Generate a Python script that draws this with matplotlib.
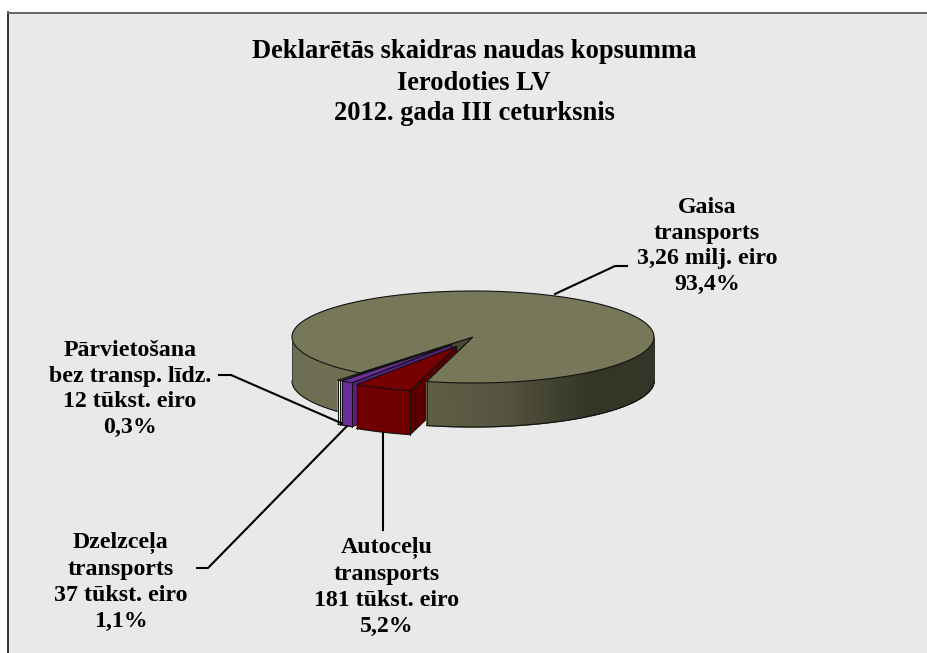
import matplotlib
matplotlib.use("Agg")
import matplotlib.pyplot as plt
import numpy as np

title_lines = ["Deklarētās skaidras naudas kopsumma", "Ierodoties LV", "2012. gada III ceturksnis"]
slice_names = ["Gaisa transports", "Autoceļu transports", "Dzelzceļa transports", "Pārvietošana"]
shares = [93.4, 5.2, 1.1, 0.3]
explode = [0.0, 0.22, 0.2, 0.2]
top_colors = ["#77775a", "#760000", "#6f2f9f", "#f4f4f4"]
side_colors = ["#6e6e52", "#700000", "#6a2c98", "#f0f0f0"]
cut_colors = ["#4a4a38", "#5a0000", "#552280", "#cccccc"]
labels = [
    "Gaisa\ntransports\n3,26 milj. eiro\n93,4%",
    "Autoceļu\ntransports\n181 tūkst. eiro\n5,2%",
    "Dzelzceļa\ntransports\n37 tūkst. eiro\n1,1%",
    "Pārvietošana\nbez transp. līdz.\n12 tūkst. eiro\n0,3%",
]

first_angle = 218.6
cx, cy, rx, ry, depth = 473, 337, 181, 46, 44

plt.rcParams['font.family'] = ['Liberation Serif', 'DejaVu Serif']
fig = plt.figure(figsize=(9.28, 6.53), dpi=100)
ax = fig.add_axes([0, 0, 1, 1])
ax.set_xlim(0, 928)
ax.set_ylim(653, 0)
ax.axis('off')

# chart area
ax.fill([8, 928, 928, 8], [12, 12, 653, 653], color="#e9e9e9", lw=0, zorder=0)
ax.plot([8, 8], [12, 653], color="#111111", lw=1.2, zorder=1)
ax.plot([8, 928], [12.5, 12.5], color="#666666", lw=1.4, zorder=1)


def point(ang, ox=0, oy=0, drop=0):
    a = np.radians(ang)
    return cx + ox + rx * np.sin(a), cy + oy - ry * np.cos(a) + drop


def wall(a0, a1, ox, oy, color, z, shaded=False):
    angs = np.linspace(a0, a1, 240)
    base = np.array(matplotlib.colors.to_rgb("#6e6e52"))
    if shaded:
        # darker towards the right of the wall
        for p, q in zip(angs[:-1], angs[1:]):
            xs0, ys0 = point(p, ox, oy)
            xs1, ys1 = point(q, ox, oy)
            v = np.interp((xs0 + xs1) / 2, [426, 500, 545, 590, 654], [0.87, 0.78, 0.62, 0.48, 0.48])
            ax.fill([xs0, xs1, xs1, xs0], [ys0, ys1, ys1 + depth, ys0 + depth],
                    color=tuple(base * v), lw=0.9, zorder=z)
    else:
        xs, ys = point(angs, ox, oy)
        ax.fill(np.r_[xs, xs[::-1]], np.r_[ys, ys[::-1] + depth], color=color, lw=0, zorder=z)
    xs, ys = point(angs, ox, oy)
    ax.plot(xs, ys + depth, color="#111111", lw=0.8, zorder=z + 0.1)


def top(a0, a1, ox, oy, color, z):
    angs = np.linspace(a0, a1, 240)
    xs, ys = point(angs, ox, oy)
    ax.fill(np.r_[cx + ox, xs], np.r_[cy + oy, ys], facecolor=color, edgecolor="#111111", lw=0.8, zorder=z)


def cut(ang, ox, oy, color, z):
    x, y = point(ang, ox, oy)
    ax.fill([cx + ox, x, x, cx + ox], [cy + oy, y, y + depth, cy + oy + depth],
            facecolor=color, edgecolor="#111111", lw=0.7, zorder=z)


# slice angles come from the shares, clockwise from first_angle
spans = np.array(shares) / sum(shares) * 360
starts = first_angle + np.r_[0, np.cumsum(spans)[:-1]]
ends = starts + spans
offs = []
for s, e, ex in zip(starts, ends, explode):
    m = np.radians((s + e) / 2)
    offs.append((ex * rx * np.sin(m), -ex * ry * np.cos(m)))

# main slice: cut faces sit behind everything
cut(starts[0], 0, 0, cut_colors[0], 2)
cut(ends[0], 0, 0, cut_colors[0], 2)
top(starts[0], ends[0], 0, 0, top_colors[0], 5)
wall(starts[0], 270, 0, 0, side_colors[0], 4)
wall(90, ends[0] - 360, 0, 0, side_colors[0], 4.5, shaded=True)
left_x, left_y = point(270)
cut_x, cut_y = point(ends[0])
ax.plot([left_x, left_x], [left_y, left_y + depth], color="#333333", lw=0.6, zorder=5)
right_x, right_y = point(90)
ax.plot([right_x, right_x], [right_y, right_y + depth], color="#333333", lw=0.6, zorder=5)
ax.plot([cut_x, cut_x], [cut_y, cut_y + depth], color="#222222", lw=0.7, zorder=5)

# exploded slices: cut faces go under the main wall, the rest on top
z = 6
for n, i in enumerate([3, 2, 1]):
    ox, oy = offs[i]
    cut(starts[i], ox, oy, cut_colors[i], 4.1 + n * 0.1)
    top(starts[i], ends[i], ox, oy, top_colors[i], z + 0.2)
    wall(starts[i], ends[i], ox, oy, side_colors[i], z + 0.1)
    for ang in (starts[i], ends[i]):
        x, y = point(ang, ox, oy)
        ax.plot([x, x], [y, y + depth], color="#111111", lw=0.7, zorder=z + 0.3)
    z += 1

# leader lines
leaders = [
    ([555, 615, 627], [294, 266, 266]),
    ([383, 383], [433, 530]),
    ([347, 208, 197], [426, 568, 568]),
    ([341, 231, 219], [423, 375, 375]),
]
for xs, ys in leaders:
    ax.plot(xs, ys, color="black", lw=1.5, zorder=12)

title_y = [58, 90, 120]
for line, y in zip(title_lines, title_y):
    ax.text(474, y, line, ha='center', va='baseline', fontsize=19.1, fontweight='bold', color='black', zorder=13)

label_xy = [(707, 246), (386.5, 587), (121, 582), (130, 389)]
for text, (x, y) in zip(labels, label_xy):
    ax.text(x, y, text, ha='center', va='center', fontsize=17.2, fontweight='bold', color='black',
            linespacing=1.3, zorder=13)

fig.savefig("out.png", dpi=100)
